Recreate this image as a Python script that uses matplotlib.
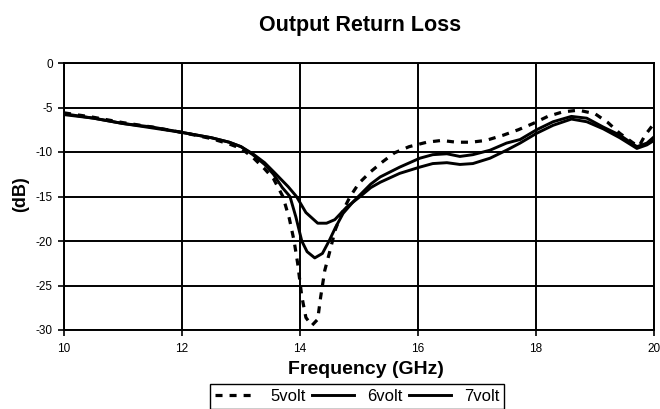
import matplotlib
matplotlib.use("Agg")
import matplotlib.pyplot as plt

plt.rcParams['font.family'] = ['Liberation Sans', 'DejaVu Sans']

f5 = [10, 10.5, 11, 11.5, 12, 12.5, 12.8, 13.0, 13.2, 13.4, 13.55, 13.71, 13.82, 13.9, 13.96, 14.03, 14.1, 14.2,
      14.3, 14.35, 14.42, 14.5, 14.6, 14.72, 14.85, 15.0, 15.2, 15.4, 15.6, 15.85, 16.15, 16.4, 16.65, 16.9,
      17.15, 17.45, 17.7, 17.95, 18.2, 18.45, 18.72, 19.0, 19.22, 19.42, 19.65, 19.75, 19.85, 20.0]
v5 = [-5.6, -6.1, -6.7, -7.2, -7.8, -8.5, -9.1, -9.6, -10.6, -11.9, -13.0, -15.0, -17.5, -20.0, -22.5, -26.2, -28.6, -29.5,
      -28.8, -26.3, -23.3, -21.3, -18.7, -16.7, -15.0, -13.5, -12.2, -11.1, -10.1, -9.4, -8.9, -8.7, -8.9, -8.9,
      -8.7, -8.1, -7.5, -6.8, -6.0, -5.5, -5.3, -5.7, -6.7, -7.9, -9.0, -9.3, -8.1, -6.8]

f6 = [10, 10.5, 11, 11.5, 12, 12.5, 12.8, 13.0, 13.2, 13.4, 13.55, 13.7, 13.83, 13.93, 14.03, 14.12, 14.25, 14.38,
      14.5, 14.6, 14.73, 14.9, 15.05, 15.2, 15.36, 15.69, 16.03, 16.25, 16.49, 16.71, 16.93, 17.22, 17.5,
      17.73, 18.01, 18.29, 18.6, 18.86, 19.14, 19.42, 19.71, 19.88, 20.0]
v6 = [-5.7, -6.2, -6.8, -7.2, -7.8, -8.4, -8.9, -9.4, -10.3, -11.4, -12.5, -14.0, -15.0, -17.3, -20.0, -21.2, -21.9, -21.4,
      -19.9, -18.5, -16.9, -15.6, -14.6, -13.6, -12.8, -11.7, -10.7, -10.3, -10.2, -10.5, -10.3, -9.8, -9.0,
      -8.6, -7.5, -6.6, -6.0, -6.2, -7.2, -8.1, -9.4, -9.0, -8.3]

f7 = [10, 10.5, 11, 11.5, 12, 12.5, 12.8, 13.0, 13.2, 13.4, 13.58, 13.8, 13.94, 14.1, 14.3, 14.45, 14.59,
      14.79, 15.02, 15.2, 15.36, 15.69, 16.03, 16.25, 16.49, 16.71, 16.93, 17.22, 17.5, 17.73, 18.01, 18.29,
      18.6, 18.86, 19.14, 19.42, 19.71, 19.88, 20.0]
v7 = [-5.8, -6.2, -6.8, -7.3, -7.8, -8.4, -8.9, -9.4, -10.2, -11.2, -12.4, -13.9, -15.0, -16.8, -18.0, -18.0, -17.6,
      -16.2, -15.0, -14.0, -13.4, -12.4, -11.7, -11.3, -11.2, -11.4, -11.3, -10.7, -9.8, -9.0, -7.9, -7.0,
      -6.3, -6.6, -7.4, -8.4, -9.6, -9.2, -8.7]

xticks = [10, 12, 14, 16, 18, 20]
yticks = [0, -5, -10, -15, -20, -25, -30]

W, H = 660, 409
fig = plt.figure(figsize=(W / 100, H / 100), dpi=100)
ax = fig.add_axes([64 / W, 1 - 330 / H, (654 - 64) / W, (330 - 63) / H])

ax.plot(f5, v5, color='black', lw=2.3, linestyle=(0, (2.2, 2.2)), label='5volt', zorder=3)
ax.plot(f6, v6, color='black', lw=2.1, label='6volt', zorder=3)
ax.plot(f7, v7, color='black', lw=2.1, label='7volt', zorder=3)

ax.set_xlim(10, 20)
ax.set_ylim(-30, 0)
ax.set_xticks(xticks)
ax.set_yticks(yticks)
ax.set_yticklabels([str(t) for t in yticks])
ax.grid(True, color='black', lw=1.4)
ax.set_axisbelow(True)
for s in ax.spines.values():
    s.set_linewidth(1.4)
    s.set_color('black')
ax.tick_params(direction='out', length=4, width=1.2, labelsize=8.5, pad=4)
ax.tick_params(axis='x', pad=5)

fig.text(360 / W, 1 - 26 / H, 'Output Return Loss', ha='center', va='center', fontsize=15.5, fontweight='bold')
fig.text(366 / W, 1 - 369 / H, 'Frequency (GHz)', ha='center', va='center', fontsize=14, fontweight='bold')
fig.text(21 / W, 1 - 194 / H, '(dB)', ha='center', va='center', rotation=90, fontsize=13, fontweight='bold')

leg = fig.legend(loc='upper left', bbox_to_anchor=(210 / W, 1 - 384 / H), ncol=3, frameon=True,
                 fancybox=False, edgecolor='black', framealpha=1, fontsize=12, handlelength=2.5,
                 handletextpad=0.8, columnspacing=0.4, borderpad=0.3, borderaxespad=0)
leg.get_frame().set_linewidth(1.0)

fig.savefig('out.png', dpi=100)
